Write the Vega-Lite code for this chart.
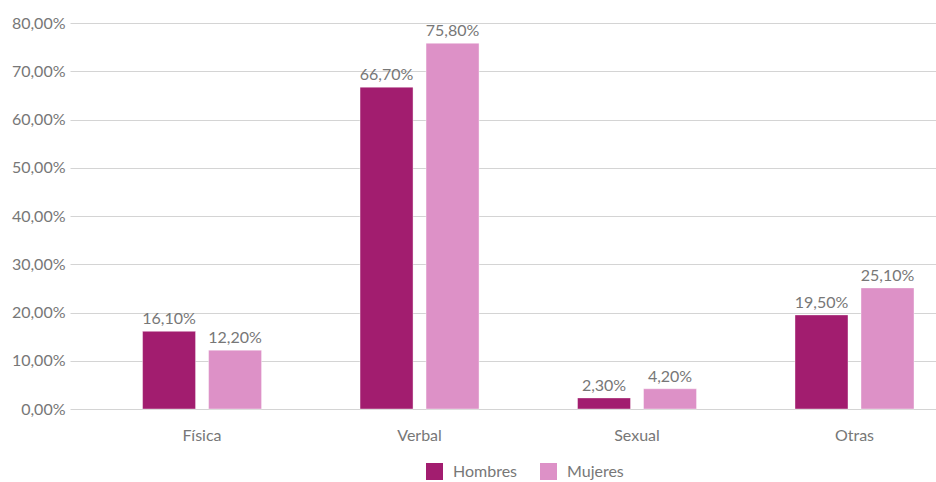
{
  "$schema": "https://vega.github.io/schema/vega-lite/v6.json",
  "width": 866,
  "height": 386,
  "autosize": "none",
  "padding": {"left": 70, "top": 23, "right": 0, "bottom": 73},
  "background": "white",
  "config": {
    "view": {"stroke": null},
    "font": "Lato",
    "axis": {"labelFont": "Lato", "labelColor": "#777777", "labelFontSize": 16},
    "legend": {"labelFont": "Lato", "labelColor": "#777777", "labelFontSize": 16}
  },
  "data": {
    "values": [
      {"tipo": "Física", "sexo": "Hombres", "valor": 16.1},
      {"tipo": "Física", "sexo": "Mujeres", "valor": 12.2},
      {"tipo": "Verbal", "sexo": "Hombres", "valor": 66.7},
      {"tipo": "Verbal", "sexo": "Mujeres", "valor": 75.8},
      {"tipo": "Sexual", "sexo": "Hombres", "valor": 2.3},
      {"tipo": "Sexual", "sexo": "Mujeres", "valor": 4.2},
      {"tipo": "Otras", "sexo": "Hombres", "valor": 19.5},
      {"tipo": "Otras", "sexo": "Mujeres", "valor": 25.1}
    ]
  },
  "encoding": {
    "x": {
      "field": "tipo",
      "type": "nominal",
      "sort": ["Física", "Verbal", "Sexual", "Otras"],
      "scale": {"paddingInner": 0.393, "paddingOuter": 0.1875, "align": 0.81},
      "axis": {"title": null, "labelAngle": 0, "ticks": false, "domain": false, "labelPadding": 18}
    },
    "xOffset": {
      "field": "sexo",
      "type": "nominal",
      "scale": {"paddingInner": 0.197, "paddingOuter": 0.0985}
    },
    "y": {
      "field": "valor",
      "type": "quantitative",
      "scale": {"domain": [0, 80]},
      "axis": {
        "title": null,
        "values": [0, 10, 20, 30, 40, 50, 60, 70, 80],
        "labelExpr": "replace(format(datum.value, '.2f'), '.', ',') + '%'",
        "ticks": false,
        "domain": false,
        "gridColor": "#d4d4d4",
        "gridWidth": 1,
        "labelPadding": 5
      }
    }
  },
  "layer": [
    {
      "mark": {"type": "bar", "stroke": "#ffffff", "strokeOpacity": 0.4, "strokeWidth": 1},
      "encoding": {
        "color": {
          "field": "sexo",
          "type": "nominal",
          "scale": {"domain": ["Hombres", "Mujeres"], "range": ["#A21D6F", "#DD91C7"]},
          "legend": {
            "title": null,
            "orient": "none",
            "direction": "horizontal",
            "legendX": 356,
            "legendY": 440,
            "symbolType": "square",
            "symbolSize": 289,
            "symbolStrokeWidth": 0,
            "columnPadding": 22,
            "labelOffset": 10
          }
        }
      }
    },
    {
      "mark": {
        "type": "text",
        "dy": -12,
        "fontSize": 16,
        "color": "#777777",
        "font": "Lato",
        "text": {"expr": "replace(format(datum.valor, '.2f'), '.', ',') + '%'"}
      },
      "encoding": {}
    }
  ]
}
